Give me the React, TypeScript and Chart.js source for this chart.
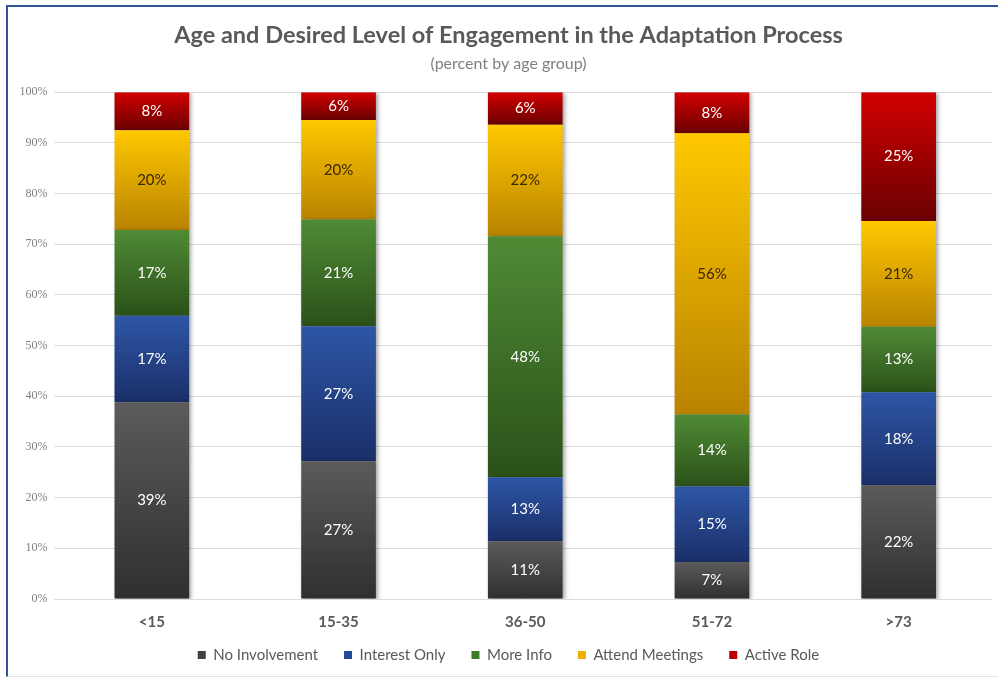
import React, { useEffect, useRef } from "react";
import { Chart, registerables } from "chart.js";

Chart.register(...registerables);

const categories = ["<15", "15-35", "36-50", "51-72", ">73"];
const seriesNames = ["No Involvement", "Interest Only", "More Info", "Attend Meetings", "Active Role"];
const noInvolvement = [38.8, 27.2, 11.4, 7.3, 22.4];
const interestOnly = [17.1, 26.6, 12.6, 14.9, 18.4];
const moreInfo = [16.9, 21.1, 47.6, 14.2, 12.9];
const attendMeetings = [19.7, 19.6, 22.0, 55.5, 20.9];
const activeRole = [7.5, 5.5, 6.4, 8.1, 25.4];
const yTicks = [0, 10, 20, 30, 40, 50, 60, 70, 80, 90, 100];

const allSeries = [noInvolvement, interestOnly, moreInfo, attendMeetings, activeRole];
const topColors = ["#5b5b5b", "#2e56a6", "#4f8b35", "#ffc800", "#d20000"];
const bottomColors = ["#2f2f2f", "#1a2f68", "#2b5119", "#b98300", "#6a0000"];
const legendColors = ["#404040", "#1f4a9a", "#3c7a28", "#e9b000", "#c00000"];
const textColors = ["#ffffff", "#ffffff", "#ffffff", "#3a2600", "#ffffff"];

const FONT = "Lato, 'Open Sans', 'Noto Sans', sans-serif";

export default function App() {
  const canvasRef = useRef<HTMLCanvasElement | null>(null);

  useEffect(() => {
    const canvas = canvasRef.current;
    if (!canvas) return;

    const gradientFor = (di: number) => (ctx: any) => {
      const chart = ctx.chart;
      const area = chart.chartArea;
      if (!area || ctx.type !== "data" || !chart.scales || !chart.scales.y) return legendColors[di];
      const i = ctx.dataIndex;
      let start = 0;
      for (let k = 0; k < di; k++) start += allSeries[k][i];
      const end = start + allSeries[di][i];
      const y = chart.scales.y;
      const yTop = y.getPixelForValue(end);
      const yBot = y.getPixelForValue(start);
      if (!isFinite(yTop) || !isFinite(yBot) || yTop === yBot) return legendColors[di];
      const g = chart.ctx.createLinearGradient(0, yTop, 0, yBot);
      g.addColorStop(0, topColors[di]);
      g.addColorStop(1, bottomColors[di]);
      return g;
    };

    const barPlugin = {
      id: "barDecor",
      beforeLayout(chart: any) {
        const lg = chart.legend;
        if (lg && !lg.__patched) {
          const orig = lg.fit;
          lg.fit = function () {
            orig.call(this);
            this.height = 39;
          };
          lg.__patched = true;
        }
      },
      afterLayout(chart: any) {
        // centre the title, subtitle and legend as in the original (slightly right of canvas centre)
        chart.boxes.forEach((b: any) => {
          if (!b.axis && (b.position === "top" || b.position === "bottom")) {
            b.left += 17;
          }
        });
        const lg = chart.legend;
        if (lg) {
          lg.top -= 11.5;
        }
      },
      beforeDatasetsDraw(chart: any) {
        const c = chart.ctx;
        c.save();
        c.shadowColor = "rgba(0,0,0,0.35)";
        c.shadowBlur = 4;
        c.shadowOffsetX = 2;
        c.shadowOffsetY = 1;
      },
      afterDatasetsDraw(chart: any) {
        const c = chart.ctx;
        c.restore();
        c.save();
        c.font = `15px ${FONT}`;
        c.textAlign = "center";
        c.textBaseline = "middle";
        chart.data.datasets.forEach((ds: any, di: number) => {
          const meta = chart.getDatasetMeta(di);
          meta.data.forEach((el: any, i: number) => {
            const v = ds.data[i];
            c.fillStyle = textColors[di];
            c.fillText(Math.round(v) + "%", el.x, (el.y + el.base) / 2);
          });
        });
        c.restore();
      },
    };

    const chart = new Chart(canvas, {
      type: "bar",
      data: {
        labels: categories,
        datasets: seriesNames.map((name, di) => ({
          label: name,
          data: allSeries[di],
          backgroundColor: gradientFor(di),
          borderWidth: 0,
          barPercentage: 0.4,
          categoryPercentage: 1,
        })),
      },
      options: {
        animation: false,
        responsive: true,
        maintainAspectRatio: false,
        layout: { padding: { left: 0, right: 6, top: 0, bottom: 4 } },
        plugins: {
          tooltip: { enabled: false },
          title: {
            display: true,
            text: "Age and Desired Level of Engagement in the Adaptation Process",
            color: "#595959",
            font: { family: FONT, size: 23.5, weight: "bold" },
            padding: { top: 14.5, bottom: 0 },
          },
          subtitle: {
            display: true,
            text: "(percent by age group)",
            color: "#7f7f7f",
            font: { family: FONT, size: 16 },
            padding: { top: 5, bottom: 18.3 },
          },
          legend: {
            position: "bottom",
            labels: {
              color: "#595959",
              font: { family: FONT, size: 15 },
              boxWidth: 8,
              boxHeight: 8,
              padding: 26,
              generateLabels: (ch: any) =>
                ch.data.datasets.map((ds: any, i: number) => ({
                  text: ds.label,
                  fillStyle: legendColors[i],
                  strokeStyle: legendColors[i],
                  lineWidth: 0,
                  hidden: false,
                  datasetIndex: i,
                  fontColor: "#595959",
                })),
            },
          },
        },
        scales: {
          x: {
            stacked: true,
            grid: { display: false, drawTicks: false },
            border: { display: false },
            ticks: {
              color: "#595959",
              font: { family: FONT, size: 15, weight: "bold" },
              padding: 14.5,
            },
            afterFit: (scale: any) => {
              scale.height = 34;
            },
          },
          y: {
            stacked: true,
            min: 0,
            max: 100,
            grid: { color: "#dcdcdc", tickLength: 4, drawTicks: true },
            border: { display: false },
            afterBuildTicks: (scale: any) => {
              scale.ticks = yTicks.map((v) => ({ value: v }));
            },
            ticks: {
              color: "#808080",
              font: { family: "'Liberation Serif', 'DejaVu Serif', serif", size: 12 },
              padding: 7,
              callback: (v: any) => v + "%",
            },
            afterFit: (scale: any) => {
              scale.width = 50.5;
            },
          },
        },
      },
      plugins: [barPlugin],
    } as any);

    return () => chart.destroy();
  }, []);

  return (
    <div
      style={{
        position: "absolute",
        left: 6,
        top: 5,
        width: 992,
        height: 672,
        boxSizing: "border-box",
        borderTop: "2px solid #2f5597",
        borderLeft: "2px solid #2f5597",
        borderBottom: "1px solid #e4e4e4",
        background: "#ffffff",
      }}
    >
      <div style={{ position: "relative", width: 990, height: 669 }}>
        <canvas ref={canvasRef} />
      </div>
    </div>
  );
}
